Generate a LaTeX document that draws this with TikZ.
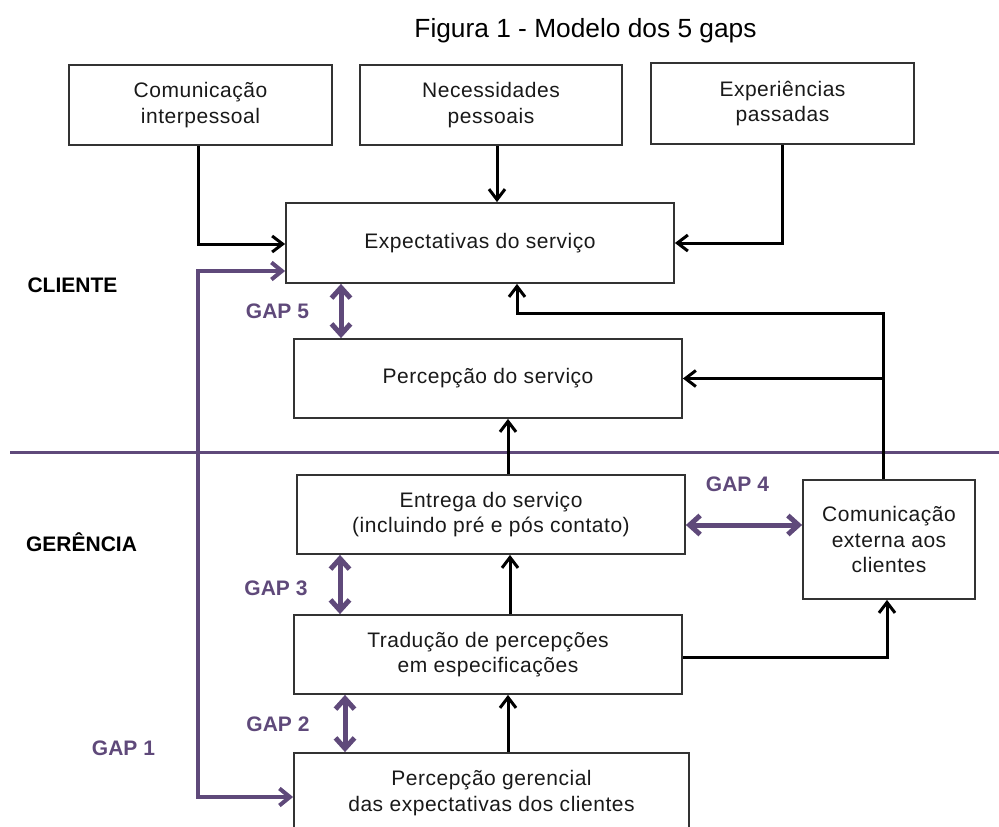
\documentclass[tikz,border=0pt]{standalone}
\usepackage{fontspec}
\setmainfont{Liberation Sans}
\newfontfamily\boxfont[LetterSpace=2.5]{Liberation Sans}
\usetikzlibrary{arrows.meta}
\definecolor{gappurple}{HTML}{5F497A}
\definecolor{boxline}{HTML}{333333}
\begin{document}
\begin{tikzpicture}[x=1pt,y=-1pt,
  box/.style={draw=boxline, line width=1.8pt, inner sep=0pt, align=center,
    font=\boxfont\fontsize{21}{25.5}\selectfont, text=black!90},
  conn/.style={draw=black, line width=3pt, line join=miter,
    -{Straight Barb[length=10.5pt,width=16pt]}},
  gaparrow/.style={draw=gappurple, line width=5pt,
    {Straight Barb[length=10.5pt,width=19pt]}-{Straight Barb[length=10.5pt,width=19pt]}},
  gapone/.style={draw=gappurple, line width=4pt, line join=miter,
    {Straight Barb[length=10.5pt,width=17pt]}-{Straight Barb[length=10.5pt,width=17pt]}},
  sepline/.style={draw=gappurple, line width=3pt},
  gaplabel/.style={text=gappurple, inner sep=0pt, font=\fontsize{21}{24}\selectfont\bfseries},
  sidelabel/.style={text=black, inner sep=0pt, font=\fontsize{21}{24}\selectfont\bfseries},
  titlestyle/.style={inner sep=0pt, anchor=base, font=\fontsize{26.3}{30}\selectfont}
]
\useasboundingbox (0,0) rectangle (999,827);
\clip (0,0) rectangle (999,827);

% title
\node[titlestyle] (title) at (585.5,37) {Figura 1 - Modelo dos 5 gaps};

% boxes
\node[box, minimum width=263pt, minimum height=80pt] (b1) at (200.5,105) {Comunicação\\interpessoal};
\node[box, minimum width=262pt, minimum height=80pt] (b2) at (491,105) {Necessidades\\pessoais};
\node[box, minimum width=263pt, minimum height=81pt] (b3) at (782.5,103.5) {Experiências\\passadas};
\node[box, minimum width=388pt, minimum height=80pt] (exp) at (480,243) {Expectativas do serviço};
\node[box, minimum width=388pt, minimum height=79pt] (perc) at (488,378.5) {Percepção do serviço};
\node[box, minimum width=388pt, minimum height=79pt] (ent) at (491,514.5) {Entrega do serviço\\(incluindo pré e pós contato)};
\node[box, minimum width=172pt, minimum height=119pt] (com) at (889,539.5) {Comunicação\\externa aos\\clientes};
\node[box, minimum width=388pt, minimum height=79pt] (trad) at (488,654.5) {Tradução de percepções\\em especificações};
\node[box, minimum width=395pt, minimum height=80pt] (pg) at (491.5,793) {Percepção gerencial\\das expectativas dos clientes};

% side labels
\node[sidelabel] (cli) at (72.5,285) {CLIENTE};
\node[sidelabel] (ger) at (81.5,542) {GERÊNCIA};
\node[gaplabel] (g5) at (277.5,311) {GAP 5};
\node[gaplabel] (g4) at (737.5,484) {GAP 4};
\node[gaplabel] (g3) at (276,588) {GAP 3};
\node[gaplabel] (g2) at (278,724) {GAP 2};
\node[gaplabel] (g1) at (123.5,748) {GAP 1};

% helper coordinates
\coordinate (sepL) at (10,452);
\coordinate (sepR) at (999,452);
\coordinate (vx) at (198,500);
\coordinate (gx5) at (341,0);
\coordinate (gx3) at (340,0);
\coordinate (gx2) at (345,0);
\coordinate (g4y) at (0,525);
\coordinate (cx) at (883,313);
\coordinate (ax1) at (508,0);
\coordinate (ax2) at (510,0);
\coordinate (ax3) at (517,0);
\coordinate (ax4) at (497,0);

% separator line
\draw[sepline] (sepL) -- (sepR);

% black connectors
\draw[conn] ([xshift=-2.5pt]b1.south) |- ([yshift=-1pt]exp.west);
\draw[conn] (b2.south -| ax4) -- (exp.north -| ax4);
\draw[conn] (b3.south) |- (exp.east);
\draw[conn] (com.north -| cx) -- (cx) -| (exp.south -| ax3);
\draw[conn] (cx |- perc.east) -- (perc.east);
\draw[conn] (ent.north -| ax1) -- (perc.south -| ax1);
\draw[conn] (trad.north -| ax2) -- (ent.south -| ax2);
\draw[conn] ([yshift=-2.5pt]trad.east) -| ([xshift=-2pt]com.south);
\draw[conn] (pg.north -| ax1) -- (trad.south -| ax1);

% gap arrows
\draw[gaparrow] (exp.south -| gx5) -- (perc.north -| gx5);
\draw[gaparrow] (ent.east |- g4y) -- (com.west |- g4y);
\draw[gaparrow] (ent.south -| gx3) -- (trad.north -| gx3);
\draw[gaparrow] (trad.south -| gx2) -- (pg.north -| gx2);
\draw[gapone] ([yshift=-28pt]exp.west) -| (vx) |- ([yshift=-4pt]pg.west);
\end{tikzpicture}
\end{document}
